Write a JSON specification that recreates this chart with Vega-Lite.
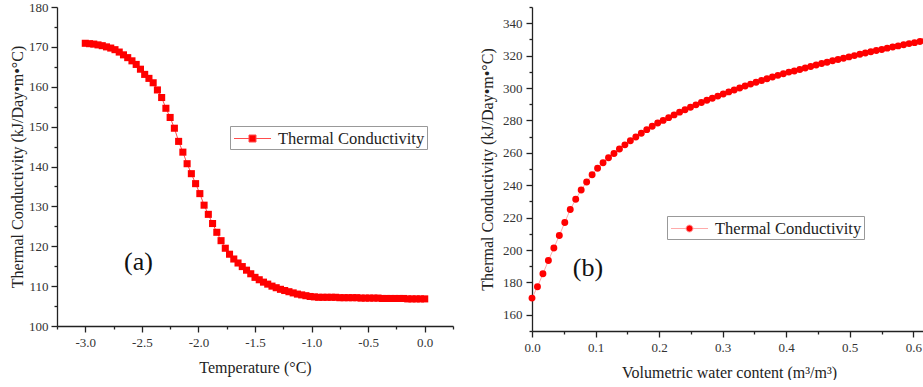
{
  "$schema": "https://vega.github.io/schema/vega-lite/v6.json",
  "padding": {"left": 9, "top": 1, "right": 0, "bottom": 0},
  "spacing": 25,
  "datasets": {
    "a": [
      {"t": -3.0, "k": 170.9}, {"t": -2.9625, "k": 170.8}, {"t": -2.925, "k": 170.7}, {"t": -2.8875, "k": 170.5},
      {"t": -2.85, "k": 170.3}, {"t": -2.8125, "k": 170.0}, {"t": -2.775, "k": 169.7}, {"t": -2.7375, "k": 169.3},
      {"t": -2.7, "k": 168.7}, {"t": -2.6625, "k": 168.0}, {"t": -2.625, "k": 167.3}, {"t": -2.5875, "k": 166.5},
      {"t": -2.55, "k": 165.6}, {"t": -2.5125, "k": 164.4}, {"t": -2.475, "k": 163.1}, {"t": -2.4375, "k": 162.1},
      {"t": -2.4, "k": 161.0}, {"t": -2.3625, "k": 159.2}, {"t": -2.325, "k": 157.3}, {"t": -2.2875, "k": 154.6},
      {"t": -2.25, "k": 152.3}, {"t": -2.2125, "k": 149.6}, {"t": -2.175, "k": 146.3}, {"t": -2.1375, "k": 143.6},
      {"t": -2.1, "k": 140.7}, {"t": -2.0625, "k": 138.2}, {"t": -2.025, "k": 135.7}, {"t": -1.9875, "k": 133.2},
      {"t": -1.95, "k": 130.3}, {"t": -1.9125, "k": 128.0}, {"t": -1.875, "k": 125.7}, {"t": -1.8375, "k": 123.5},
      {"t": -1.8, "k": 121.4}, {"t": -1.7625, "k": 119.5}, {"t": -1.725, "k": 118.0}, {"t": -1.6875, "k": 116.8},
      {"t": -1.65, "k": 115.8}, {"t": -1.6125, "k": 114.9}, {"t": -1.575, "k": 114.0}, {"t": -1.5375, "k": 113.1},
      {"t": -1.5, "k": 112.2}, {"t": -1.4625, "k": 111.6}, {"t": -1.425, "k": 111.0}, {"t": -1.3875, "k": 110.5},
      {"t": -1.35, "k": 110.0}, {"t": -1.3125, "k": 109.6}, {"t": -1.275, "k": 109.2}, {"t": -1.2375, "k": 108.9},
      {"t": -1.2, "k": 108.6}, {"t": -1.1625, "k": 108.3}, {"t": -1.125, "k": 108.0}, {"t": -1.0875, "k": 107.8},
      {"t": -1.05, "k": 107.6}, {"t": -1.0125, "k": 107.4}, {"t": -0.975, "k": 107.3}, {"t": -0.9375, "k": 107.2},
      {"t": -0.9, "k": 107.2}, {"t": -0.8625, "k": 107.2}, {"t": -0.825, "k": 107.2}, {"t": -0.7875, "k": 107.2},
      {"t": -0.75, "k": 107.1}, {"t": -0.7125, "k": 107.1}, {"t": -0.675, "k": 107.1}, {"t": -0.6375, "k": 107.1},
      {"t": -0.6, "k": 107.1}, {"t": -0.5625, "k": 107.0}, {"t": -0.525, "k": 107.0}, {"t": -0.4875, "k": 107.0},
      {"t": -0.45, "k": 107.0}, {"t": -0.4125, "k": 107.0}, {"t": -0.375, "k": 106.9}, {"t": -0.3375, "k": 106.9},
      {"t": -0.3, "k": 106.9}, {"t": -0.2625, "k": 106.9}, {"t": -0.225, "k": 106.9}, {"t": -0.1875, "k": 106.9},
      {"t": -0.15, "k": 106.8}, {"t": -0.1125, "k": 106.8}, {"t": -0.075, "k": 106.8}, {"t": -0.0375, "k": 106.8},
      {"t": 0.0, "k": 106.8}
    ],
    "b": [
      {"w": 0.0, "k": 170.3}, {"w": 0.0086, "k": 177.3}, {"w": 0.0172, "k": 185.3}, {"w": 0.0258, "k": 193.5},
      {"w": 0.0344, "k": 201.2}, {"w": 0.043, "k": 209.0}, {"w": 0.0516, "k": 217.0}, {"w": 0.0602, "k": 225.0},
      {"w": 0.0688, "k": 231.3}, {"w": 0.0774, "k": 237.0}, {"w": 0.086, "k": 242.0}, {"w": 0.0946, "k": 246.5},
      {"w": 0.1032, "k": 250.5}, {"w": 0.1118, "k": 253.9}, {"w": 0.1204, "k": 256.9}, {"w": 0.129, "k": 259.6},
      {"w": 0.1376, "k": 262.3}, {"w": 0.1462, "k": 264.9}, {"w": 0.1548, "k": 267.4}, {"w": 0.1634, "k": 269.8},
      {"w": 0.172, "k": 272.1}, {"w": 0.1806, "k": 274.3}, {"w": 0.1892, "k": 276.4}, {"w": 0.1978, "k": 278.4},
      {"w": 0.2064, "k": 280.0}, {"w": 0.215, "k": 281.7}, {"w": 0.2236, "k": 283.4}, {"w": 0.2322, "k": 285.1},
      {"w": 0.2408, "k": 286.6}, {"w": 0.2494, "k": 288.1}, {"w": 0.258, "k": 289.6}, {"w": 0.2666, "k": 291.0},
      {"w": 0.2752, "k": 292.4}, {"w": 0.2838, "k": 293.7}, {"w": 0.2924, "k": 295.0}, {"w": 0.301, "k": 296.3},
      {"w": 0.3096, "k": 297.6}, {"w": 0.3182, "k": 298.8}, {"w": 0.3268, "k": 300.0}, {"w": 0.3354, "k": 301.2},
      {"w": 0.344, "k": 302.4}, {"w": 0.3526, "k": 303.5}, {"w": 0.3612, "k": 304.6}, {"w": 0.3698, "k": 305.7},
      {"w": 0.3784, "k": 306.8}, {"w": 0.387, "k": 307.8}, {"w": 0.3956, "k": 308.8}, {"w": 0.4042, "k": 309.8},
      {"w": 0.4128, "k": 310.5}, {"w": 0.4214, "k": 311.4}, {"w": 0.43, "k": 312.3}, {"w": 0.4386, "k": 313.3},
      {"w": 0.4472, "k": 314.2}, {"w": 0.4558, "k": 315.1}, {"w": 0.4644, "k": 315.9}, {"w": 0.473, "k": 316.8},
      {"w": 0.4816, "k": 317.6}, {"w": 0.4902, "k": 318.4}, {"w": 0.4988, "k": 319.2}, {"w": 0.5074, "k": 320.0},
      {"w": 0.516, "k": 320.8}, {"w": 0.5246, "k": 321.6}, {"w": 0.5332, "k": 322.4}, {"w": 0.5418, "k": 323.1},
      {"w": 0.5504, "k": 323.8}, {"w": 0.559, "k": 324.6}, {"w": 0.5676, "k": 325.3}, {"w": 0.5762, "k": 326.0},
      {"w": 0.5848, "k": 326.7}, {"w": 0.5934, "k": 327.4}, {"w": 0.602, "k": 328.0}, {"w": 0.6106, "k": 328.7},
      {"w": 0.6192, "k": 329.4}
    ],
    "la": [{"t": -2.53, "k": 116, "label": "(a)"}],
    "lb": [{"w": 0.088, "k": 189, "label": "(b)"}]
  },
  "hconcat": [
    {
      "vconcat": [
        {
          "width": 396,
          "height": 319,
          "layer": [
            {
              "data": {"name": "a"},
              "mark": {"type": "line", "color": "#ff4d4d", "strokeWidth": 1},
              "encoding": {
                "x": {
                  "field": "t", "type": "quantitative",
                  "scale": {"domain": [-3.25, 0.25], "nice": false, "zero": false},
                  "axis": {
                    "title": "Temperature (°C)",
                    "values": [-3.25, -3, -2.75, -2.5, -2.25, -2, -1.75, -1.5, -1.25, -1, -0.75, -0.5, -0.25, 0, 0.25],
                    "tickCount": 100,
                    "labelExpr": "abs(datum.value*2 - round(datum.value*2)) < 0.001 ? replace(format(datum.value, '.1f'), '\u2212', '-') : ''",
                    "tickSize": {"condition": {"test": "abs(datum.value*2 - round(datum.value*2)) < 0.001", "value": 6}, "value": 3},
                    "labelFlush": false, "labelOverlap": false, "labelBound": false,
                    "labelFont": "Liberation Serif", "labelPadding": 4
                  }
                },
                "y": {
                  "field": "k", "type": "quantitative",
                  "scale": {"domain": [100, 180], "nice": false, "zero": false},
                  "axis": {
                    "title": "Thermal Conductivity (kJ/Day•m•°C)",
                    "values": [100, 105, 110, 115, 120, 125, 130, 135, 140, 145, 150, 155, 160, 165, 170, 175, 180],
                    "tickCount": 100,
                    "labelExpr": "datum.value % 10 == 0 ? format(datum.value, 'd') : ''",
                    "tickSize": {"condition": {"test": "datum.value % 10 == 0", "value": 6}, "value": 3},
                    "labelOverlap": false, "labelBound": false, "labelFlush": false,
                    "labelFont": "Liberation Serif", "labelPadding": 3, "titlePadding": 3
                  }
                }
              }
            },
            {
              "data": {"name": "a"},
              "mark": {"type": "point", "shape": "square", "filled": true, "size": 50, "opacity": 1},
              "encoding": {
                "x": {"field": "t", "type": "quantitative"},
                "y": {"field": "k", "type": "quantitative"},
                "color": {
                  "datum": "Thermal Conductivity", "type": "nominal",
                  "scale": {"range": ["#ff0000"]},
                  "legend": {
                    "title": null, "orient": "none", "legendX": 173, "legendY": 119,
                    "symbolType": "M-1.85,0H-0.35M0.35,0H1.85M-0.35,-0.35H0.35V0.35H-0.35Z",
                    "symbolSize": 400, "padding": 2, "symbolOffset": 10, "labelOffset": 15,
                    "symbolStrokeColor": "#ff4d4d", "symbolStrokeWidth": 1,
                    "strokeColor": "#999", "fillColor": "white",
                    "labelFont": "Liberation Serif", "labelFontSize": 16.5, "labelColor": "#222"
                  }
                }
              }
            },
            {
              "data": {"name": "la"},
              "mark": {"type": "text", "font": "Liberation Serif", "fontSize": 26, "color": "#111"},
              "encoding": {
                "x": {"field": "t", "type": "quantitative"},
                "y": {"field": "k", "type": "quantitative"},
                "text": {"field": "label"}
              }
            }
          ]
        }
      ]
    },
    {
      "width": 394,
      "height": 324,
      "layer": [
        {
          "data": {"name": "b"},
          "mark": {"type": "line", "color": "#ffaaaa", "strokeWidth": 1},
          "encoding": {
            "x": {
              "field": "w", "type": "quantitative",
              "scale": {"domain": [0, 0.62], "nice": false, "zero": false},
              "axis": {
                "title": "Volumetric water content (m³/m³)",
                "values": [0, 0.05, 0.1, 0.15, 0.2, 0.25, 0.3, 0.35, 0.4, 0.45, 0.5, 0.55, 0.6],
                "tickCount": 100,
                "labelExpr": "abs(datum.value*10 - round(datum.value*10)) < 0.001 ? format(datum.value, '.1f') : ''",
                "tickSize": {"condition": {"test": "abs(datum.value*10 - round(datum.value*10)) < 0.001", "value": 6}, "value": 3},
                "labelFlush": false, "labelOverlap": false, "labelBound": false,
                "labelFont": "Liberation Serif", "labelPadding": 4
              }
            },
            "y": {
              "field": "k", "type": "quantitative",
              "scale": {"domain": [150, 350], "nice": false, "zero": false},
              "axis": {
                "title": "Thermal Conductivity (kJ/Day•m•°C)",
                "values": [150, 160, 170, 180, 190, 200, 210, 220, 230, 240, 250, 260, 270, 280, 290, 300, 310, 320, 330, 340, 350],
                "tickCount": 100,
                "labelExpr": "datum.value % 20 == 0 ? format(datum.value, 'd') : ''",
                "tickSize": {"condition": {"test": "datum.value % 20 == 0", "value": 6}, "value": 3},
                "labelOverlap": false, "labelBound": false, "labelFlush": false,
                "labelFont": "Liberation Serif", "labelPadding": 4, "titlePadding": 7
              }
            }
          }
        },
        {
          "data": {"name": "b"},
          "mark": {"type": "point", "shape": "circle", "filled": true, "size": 48, "opacity": 1},
          "encoding": {
            "x": {"field": "w", "type": "quantitative"},
            "y": {"field": "k", "type": "quantitative"},
            "color": {
              "datum": "Thermal Conductivity", "type": "nominal",
              "scale": {"range": ["#ff0000"]},
              "legend": {
                "title": null, "orient": "none", "legendX": 135, "legendY": 209,
                "symbolType": "M-1.85,0H-0.35M0.35,0H1.85M0.35,0A0.35,0.35 0 1,1 -0.35,0A0.35,0.35 0 1,1 0.35,0Z",
                "symbolSize": 400, "padding": 2, "symbolOffset": 10, "labelOffset": 15,
                "symbolStrokeColor": "#ffaaaa", "symbolStrokeWidth": 1,
                "strokeColor": "#999", "fillColor": "white",
                "labelFont": "Liberation Serif", "labelFontSize": 16.5, "labelColor": "#222"
              }
            }
          }
        },
        {
          "data": {"name": "lb"},
          "mark": {"type": "text", "font": "Liberation Serif", "fontSize": 26, "color": "#111"},
          "encoding": {
            "x": {"field": "w", "type": "quantitative"},
            "y": {"field": "k", "type": "quantitative"},
            "text": {"field": "label"}
          }
        }
      ]
    }
  ],
  "resolve": {"scale": {"color": "independent"}, "legend": {"color": "independent"}},
  "config": {
    "view": {"stroke": null},
    "axis": {
      "domainColor": "#222", "domainWidth": 1.3, "tickColor": "#222", "tickWidth": 1.3,
      "labelFont": "Liberation Serif", "labelFontSize": 13, "labelColor": "#333", "labelPadding": 4,
      "titleFont": "Liberation Serif", "titleFontSize": 16, "titleFontWeight": "normal", "titleColor": "#222",
      "grid": false
    },
    "axisY": {"titlePadding": 6},
    "axisX": {"titlePadding": 10}
  }
}
